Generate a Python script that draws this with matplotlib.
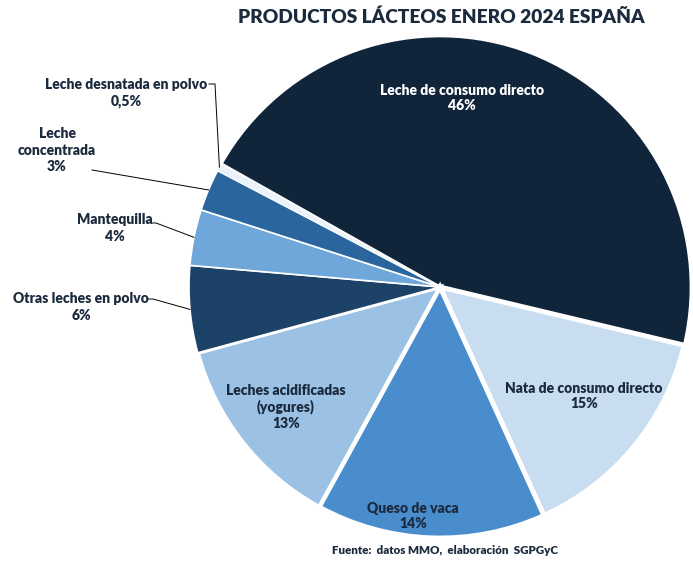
import numpy as np
import matplotlib.pyplot as plt

plt.rcParams["font.family"] = ["Lato", "DejaVu Sans"]

# Productos lácteos, enero 2024 (cuota en %)
categories = [
    "Leche de consumo directo",
    "Nata de consumo directo",
    "Queso de vaca",
    "Leches acidificadas\n(yogures)",
    "Otras leches en polvo",
    "Mantequilla",
    "Leche\nconcentrada",
    "Leche desnatada en polvo",
]
values = [45.6, 14.5, 14.8, 12.8, 5.6, 3.6, 2.7, 0.5]
pct_labels = ["46%", "15%", "14%", "13%", "6%", "4%", "3%", "0,5%"]
colors = ["#10243a", "#c9ddf0", "#4a8dcd", "#9bc2e5",
          "#1c4268", "#6fa7da", "#2a659e", "#eaf2fa"]

W, H = 693, 561
dark = "#1b2a3d"
weight = "heavy"

fig = plt.figure(figsize=(W / 100, H / 100), dpi=100)
ax = fig.add_axes([0, 0, 1, 1])

cx, cy, R = 440, H - 287, 251
explode = [0.05, 0, 0, 0, 0, 0, 0, 0]
wedges, _ = ax.pie(values, colors=colors, startangle=150.6, counterclock=False,
                   radius=R, center=(cx, cy), explode=explode,
                   wedgeprops=dict(edgecolor="white", linewidth=2))
edge_w = [2, 3.5, 3.5, 3, 1.2, 1.2, 1.2, 0.6]
for w, lw in zip(wedges, edge_w):
    w.set_linewidth(lw)

ax.set_xlim(0, W)
ax.set_ylim(0, H)
ax.set_aspect("equal")
ax.axis("off")


def px(x, y):
    return x, H - y


# labels inside the slices
inside = {
    0: (462, 98, "white"),
    1: (584, 396, dark),
    2: (413, 516, dark),
    3: (286, 407, dark),
}
for i, (x, y, c) in inside.items():
    ax.text(*px(x, y), categories[i] + "\n" + pct_labels[i], ha="center",
            va="center", fontsize=10, fontweight=weight, color=c,
            linespacing=1.25)

# labels outside with leader lines: text centre, line start, elbow
outside = {
    7: ((126, 93), (209, 84), (215, 84)),
    6: ((57, 150), (92, 170), None),
    5: ((115, 228), (152, 223), (156, 223)),
    4: ((81, 307), (148, 299), (153, 299)),
}
for i, (tpos, start, elbow) in outside.items():
    w = wedges[i]
    mid = np.deg2rad((w.theta1 + w.theta2) / 2)
    ex = w.center[0] + w.r * np.cos(mid)
    ey = w.center[1] + w.r * np.sin(mid)
    pts = [px(*start)]
    if elbow:
        pts.append(px(*elbow))
    pts.append((ex, ey))
    xs, ys = zip(*pts)
    ax.plot(xs, ys, color="black", lw=0.7)
    ax.text(*px(*tpos), categories[i] + "\n" + pct_labels[i], ha="center",
            va="center", fontsize=10, fontweight=weight, color=dark,
            linespacing=1.3)

ax.text(*px(441, 17), "PRODUCTOS LÁCTEOS ENERO 2024 ESPAÑA", ha="center",
        va="center", fontsize=13.8, fontweight=weight, color=dark)
ax.text(*px(445, 551), "Fuente:  datos MMO,  elaboración  SGPGyC", ha="center",
        va="center", fontsize=8.3, fontweight=weight, color=dark)

fig.savefig("out.png", dpi=100)
